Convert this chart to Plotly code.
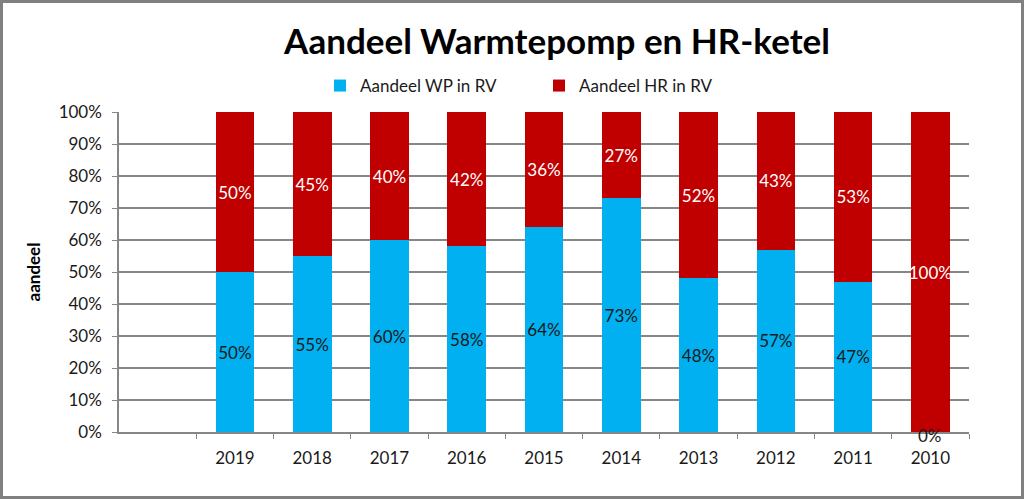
import plotly.graph_objects as go

years = ["2019", "2018", "2017", "2016", "2015", "2014", "2013", "2012", "2011", "2010"]
wp_share = [50, 55, 60, 58, 64, 73, 48, 57, 47, 0]
hr_share = [50, 45, 40, 42, 36, 27, 52, 43, 53, 100]
y_ticks = [0, 10, 20, 30, 40, 50, 60, 70, 80, 90, 100]
y_ticklabels = [f"{v}%" for v in y_ticks]

FONT = "Lato, Carlito, Calibri, Roboto, sans-serif"
W, H = 1024, 499
L, R, T, B = 119, 55, 112, 67
pw, ph = W - L - R, H - T - B

fig = go.Figure()
fig.add_trace(go.Bar(
    x=years, y=wp_share, name="Aandeel WP in RV",
    marker=dict(color="#00B0F0", line=dict(width=0)),
    text=[f"{v}%" for v in wp_share], textposition="inside",
    insidetextanchor="middle", textangle=0, constraintext="none",
    textfont=dict(color="#1a1a1a", size=17, family=FONT),
))
fig.add_trace(go.Bar(
    x=years, y=hr_share, name="Aandeel HR in RV",
    marker=dict(color="#C00000", line=dict(width=0)),
    text=[f"{v}%" for v in hr_share], textposition="inside",
    insidetextanchor="middle", textangle=0, constraintext="none",
    textfont=dict(color="white", size=17, family=FONT),
))
# zero-height label(s) that plotly cannot render inside
for i, v in enumerate(wp_share):
    if v == 0:
        fig.add_annotation(x=i, y=v, xref="x", yref="y", text=f"{v}%", showarrow=False,
                           font=dict(color="#1a1a1a", size=17, family=FONT),
                           yanchor="middle", yshift=-3)

fig.update_layout(
    width=W, height=H,
    barmode="stack", bargap=0.5,
    paper_bgcolor="white", plot_bgcolor="white",
    margin=dict(l=L, r=R, t=T, b=B),
    font=dict(family=FONT, size=17, color="#1a1a1a"),
    title=dict(text="<b>Aandeel Warmtepomp en HR-ketel</b>",
               font=dict(family=FONT, size=35, color="black"),
               x=557 / W, xanchor="center", y=1 - 42 / H, yanchor="middle"),
    legend=dict(orientation="h", x=(333 - L - 13) / pw, xanchor="left",
                y=(H - B - 86) / ph, yanchor="middle", entrywidth=174,
                font=dict(family=FONT, size=17, color="#1a1a1a"),
                itemwidth=30, traceorder="normal"),
    xaxis=dict(type="category", range=[-1.5, 9.5], showgrid=False,
               showline=True, linecolor="#868686", linewidth=1.5,
               ticks="outside", tickson="boundaries", tickcolor="#868686",
               ticklen=5, ticklabelstandoff=10,
               tickfont=dict(family=FONT, size=17, color="#1a1a1a")),
    yaxis=dict(range=[0, 100], tickvals=y_ticks, ticktext=y_ticklabels,
               showgrid=True, gridcolor="#868686", gridwidth=1.5,
               showline=True, linecolor="#868686", linewidth=1.5,
               ticks="outside", tickcolor="#868686", ticklen=5,
               ticklabelstandoff=7,
               tickfont=dict(family=FONT, size=17, color="#1a1a1a"),
               title=dict(text="<b>aandeel</b>", font=dict(family=FONT, size=17, color="black"),
                          standoff=14)),
    shapes=[dict(type="rect", xref="paper", yref="paper",
                 x0=(1.5 - L) / pw, x1=(W - 1.5 - L) / pw,
                 y0=(H - B - (H - 1.5)) / ph, y1=(H - B - 1.5) / ph,
                 line=dict(color="#808080", width=3), layer="above")],
)
fig.write_html("out.html", config={"displayModeBar": False},
               post_script="document.body.style.margin='0';")
